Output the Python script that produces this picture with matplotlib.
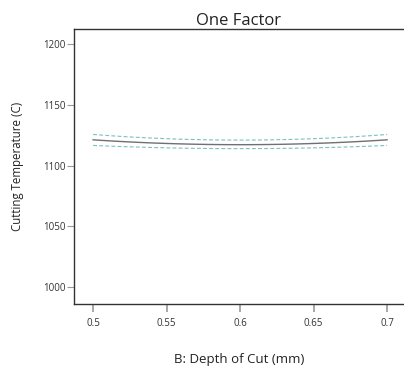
import matplotlib
matplotlib.use("Agg")
import matplotlib.pyplot as plt
import numpy as np

depth = [0.5, 0.55, 0.6, 0.65, 0.7]
mean_temp = [1121.2, 1118.3, 1117.1, 1118.3, 1121.2]
upper_ci = [1125.6, 1122.3, 1120.8, 1122.3, 1125.6]
lower_ci = [1116.6, 1114.6, 1114.0, 1114.6, 1116.6]
xticks = [0.5, 0.55, 0.6, 0.65, 0.7]
xtick_labels = ["0.5", "0.55", "0.6", "0.65", "0.7"]
yticks = [1000, 1050, 1100, 1150, 1200]

plt.rcParams['font.family'] = ['Open Sans', 'DejaVu Sans']

fig = plt.figure(figsize=(4.04, 3.67), dpi=100)
ax = fig.add_axes([74/404, 1 - 304/367, (404 - 74)/404, (304 - 29)/367])

# smooth quadratic fits through the read points
xs = np.linspace(0.5, 0.7, 100)
for vals, color, ls, lw in [(mean_temp, '#707070', '-', 1.0),
                            (upper_ci, '#7cc0c0', (0, (3.5, 2)), 0.8),
                            (lower_ci, '#7cc0c0', (0, (3.5, 2)), 0.8)]:
    c = np.polyfit(depth, vals, 2)
    ax.plot(xs, np.polyval(c, xs), color=color, linestyle=ls, linewidth=lw)

ax.set_xlim(0.487, 0.7115)
ax.set_ylim(986, 1212.5)
ax.set_xticks(xticks)
ax.set_xticklabels(xtick_labels)
ax.set_yticks(yticks)

for s in ['right']:
    ax.spines[s].set_visible(False)
for s in ['left', 'bottom', 'top']:
    ax.spines[s].set_color('#333333')
    ax.spines[s].set_linewidth(1.0)

ax.tick_params(axis='x', direction='out', length=6, width=1.2, color='#999999',
               labelsize=7, labelcolor='#333333', pad=4)
ax.tick_params(axis='y', direction='out', length=5, width=0.8, color='#999999',
               labelsize=7, labelcolor='#333333', pad=1)

ax.set_title("One Factor", fontsize=12, color='#222222', pad=3)
ax.set_xlabel("B: Depth of Cut (mm)", fontsize=9.5, color='#222222', labelpad=17)
ax.set_ylabel("Cutting Temperature (C)", fontsize=8.3, color='#222222', labelpad=14)

fig.savefig("out.png", dpi=100)
